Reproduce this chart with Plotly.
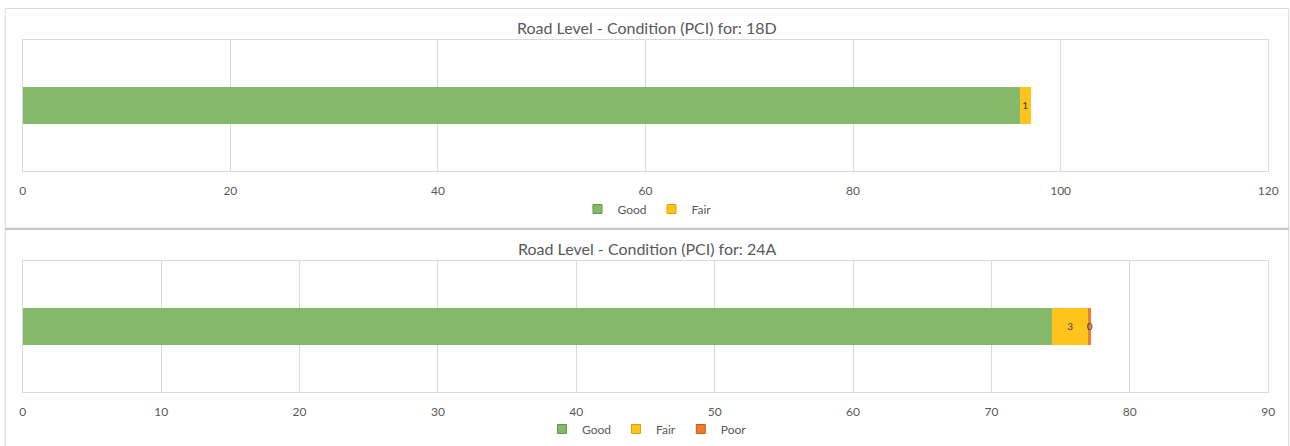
import plotly.graph_objects as go

# Road condition (PCI) shares per road, stacked horizontally
road_a = "18D"
road_a_good = [96.1]
road_a_fair = [1.0]

road_b = "24A"
road_b_good = [74.4]
road_b_fair = [2.6]
road_b_poor = [0.2]

cat = ["PCI"]

GREEN, GREEN_EDGE = "#84B96A", "#5E9A45"
YELLOW, YELLOW_EDGE = "#FFC41C", "#D9A300"
ORANGE, ORANGE_EDGE = "#ED7D31", "#C55A11"
TXT = "#595959"
GRID = "#D9D9D9"
FONT = "Lato, 'Open Sans', sans-serif"

W, H = 1290, 446


def py(px):
    return 1 - px / H


def px_(x):
    # horizontal pixel -> paper fraction (small offset/scale for the render area)
    return (x - 2.21) / 0.9904 / W


fig = go.Figure()

label_font = dict(family=FONT, size=10, color="#404040")
bar_text = dict(texttemplate="%{x:.0f}", textposition="inside",
                insidetextanchor="middle", constraintext="none", textangle=0,
                textfont=label_font)


def add_bar(xvals, color, axis, text=False):
    fig.add_trace(go.Bar(y=cat, x=xvals, orientation="h", showlegend=False,
                         marker=dict(color=color, line=dict(width=0)),
                         xaxis="x" + axis, yaxis="y" + axis,
                         **(bar_text if text else {})))


def add_key(name, color, edge, axis, legend):
    # legend-only entry with an outlined square swatch
    fig.add_trace(go.Scatter(x=[None], y=[None], mode="markers", name=name,
                             marker=dict(symbol="square", size=9, color=color,
                                         line=dict(color=edge, width=1)),
                             xaxis="x" + axis, yaxis="y" + axis, legend=legend))


add_bar(road_a_good, GREEN, "")
add_bar(road_a_fair, YELLOW, "", text=True)
add_key("Good", GREEN, GREEN_EDGE, "", "legend")
add_key("Fair", YELLOW, YELLOW_EDGE, "", "legend")

add_bar(road_b_good, GREEN, "2")
add_bar(road_b_fair, YELLOW, "2", text=True)
add_bar(road_b_poor, ORANGE, "2", text=True)
add_key("Good", GREEN, GREEN_EDGE, "2", "legend2")
add_key("Fair", YELLOW, YELLOW_EDGE, "2", "legend2")
add_key("Poor", ORANGE, ORANGE_EDGE, "2", "legend2")

xdom = [px_(22), px_(1268)]
xcommon = dict(domain=xdom, showgrid=True, gridcolor=GRID, gridwidth=1,
               showline=True, linecolor=GRID, mirror=True, zeroline=False,
               ticks="", tickfont=dict(family=FONT, size=12, color=TXT),
               ticklabelstandoff=9, fixedrange=True)
ycommon = dict(type="category", showticklabels=False, showgrid=False,
               showline=True, linecolor=GRID, mirror=True, zeroline=False,
               ticks="", fixedrange=True)

legend_common = dict(orientation="h", x=(px_(4.5) + px_(1288.5)) / 2,
                     xanchor="center", yanchor="middle", traceorder="normal",
                     font=dict(family=FONT, size=12, color=TXT),
                     itemwidth=30, tracegroupgap=0, bgcolor="rgba(0,0,0,0)")

fig.update_layout(
    width=W, height=H,
    margin=dict(l=0, r=0, t=0, b=0),
    paper_bgcolor="white", plot_bgcolor="white",
    barmode="stack", bargap=0.71,
    font=dict(family=FONT, color=TXT),
    hovermode=False,
    xaxis=dict(xcommon, range=[0, 120], dtick=20, anchor="y"),
    yaxis=dict(ycommon, domain=[py(171), py(40)], anchor="x"),
    xaxis2=dict(xcommon, range=[0, 90], dtick=10, anchor="y2"),
    yaxis2=dict(ycommon, domain=[py(392), py(261)], anchor="x2"),
    legend=dict(legend_common, y=py(209)),
    legend2=dict(legend_common, y=py(429)),
    annotations=[
        dict(text=f"Road Level - Condition (PCI) for: {road_a}", xref="paper",
             yref="paper", x=px_(647), y=py(28), xanchor="center",
             yanchor="middle", showarrow=False,
             font=dict(family=FONT, size=16, color=TXT)),
        dict(text=f"Road Level - Condition (PCI) for: {road_b}", xref="paper",
             yref="paper", x=px_(647), y=py(249), xanchor="center",
             yanchor="middle", showarrow=False,
             font=dict(family=FONT, size=16, color=TXT)),
    ],
    shapes=[
        dict(type="rect", xref="paper", yref="paper", x0=px_(4.5), x1=px_(1288.5),
             y0=py(228), y1=py(8.5), line=dict(color="#D9D9D9", width=1)),
        dict(type="rect", xref="paper", yref="paper", x0=px_(4.5), x1=px_(1288.5),
             y0=py(460), y1=py(229.5), line=dict(color="#D9D9D9", width=1)),
        dict(type="line", xref="paper", yref="paper", x0=px_(4), x1=px_(1289),
             y0=py(229), y1=py(229), line=dict(color="#C8C8C8", width=2)),
    ],
)

fig.write_html("out.html")
